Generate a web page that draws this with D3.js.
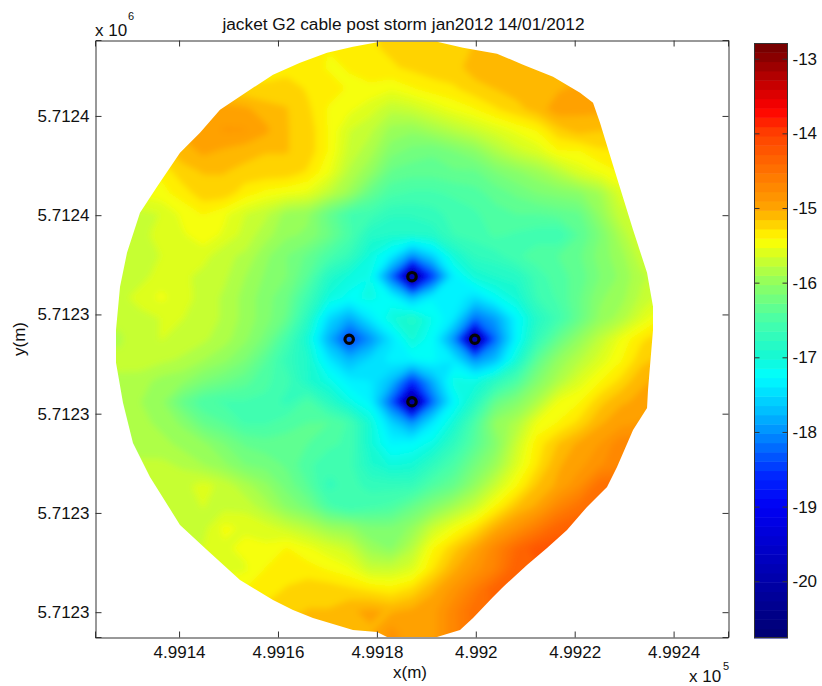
<!DOCTYPE html>
<html><head><meta charset="utf-8">
<script src="https://cdn.jsdelivr.net/npm/d3@7"></script>
<style>
html,body{margin:0;padding:0;background:#fff}
svg{display:block}
text{font-family:"Liberation Sans",Arial,sans-serif;fill:#111}
</style></head><body>
<svg id="c" width="822" height="686"></svg>
<script>
const chartTitle = "jacket G2 cable post storm jan2012 14/01/2012";
const xTicks = [499140,499160,499180,499200,499220,499240];
const xTickLabels = ["4.9914","4.9916","4.9918","4.992","4.9922","4.9924"];
const yTicks = [5712280,5712300,5712320,5712340,5712360,5712380];
const yTickLabels = ["5.7123","5.7123","5.7123","5.7123","5.7124","5.7124"];
const cbTicks = [-20,-19,-18,-17,-16,-15,-14,-13];
const colorValues = [-20.76,-20,-19,-18.6,-18,-17.7,-17.25,-17,-16.5,-16,-15.42,-15,-14,-13.68,-13,-12.79];
const colorNames = ["#000070","#0000a8","#0000f4","#0024ff","#0090ff","#00c0ff","#00ffff","#14f8d4","#48ffa8","#90ff60","#ffff00","#ffa400","#ff4000","#ff0000","#8c0000","#700000"];

const gridX = [499123.7,499127.9,499132.1,499136.4,499140.6,499144.8,499149.0,499153.3,499157.5,499161.7,499166.0,499170.2,499174.4,499178.6,499182.9,499187.1,499191.3,499195.5,499199.8,499204.0,499208.2,499212.4,499216.7,499220.9,499225.1,499229.3,499233.6,499237.8];
const gridY = [5712398.2,5712394.0,5712389.8,5712385.5,5712381.3,5712377.1,5712372.9,5712368.7,5712364.5,5712360.3,5712356.1,5712351.8,5712347.6,5712343.4,5712339.2,5712335.0,5712330.8,5712326.6,5712322.4,5712318.2,5712313.9,5712309.7,5712305.5,5712301.3,5712297.1,5712292.9,5712288.7,5712284.5,5712280.2,5712276.0,5712271.8];
const depth = [
[-15.4,-15.4,-15.4,-15.4,-15.4,-15.4,-15.4,-15.4,-15.4,-15.4,-15.4,-15.4,-15.4,-15.3,-15.25,-15.2,-15.2,-15.2,-15.15,-15.1,-15.1,-15.1,-15.1,-15.1,-15.1,-15.1,-15.1,-15.1],
[-15.4,-15.4,-15.4,-15.4,-15.4,-15.4,-15.4,-15.4,-15.4,-15.4,-15.4,-15.4,-15.4,-15.3,-15.25,-15.2,-15.2,-15.2,-15.15,-15.1,-15.1,-15.1,-15.1,-15.1,-15.1,-15.1,-15.1,-15.1],
[-15.35,-15.35,-15.35,-15.35,-15.35,-15.35,-15.35,-15.35,-15.35,-15.35,-15.35,-15.42,-15.4,-15.3,-15.3,-15.25,-15.2,-15.2,-15.1,-15.05,-15.1,-15.1,-15.1,-15.1,-15.1,-15.1,-15.1,-15.1],
[-15.25,-15.25,-15.25,-15.25,-15.25,-15.25,-15.25,-15.25,-15.25,-15.2,-15.3,-15.35,-15.42,-15.45,-15.5,-15.42,-15.35,-15.3,-15.2,-15.15,-15.1,-15.05,-15.05,-15,-15,-15,-15,-15],
[-14.95,-14.95,-14.95,-14.95,-14.95,-14.95,-14.95,-15,-15.1,-15.15,-15.25,-15.42,-15.5,-15.6,-15.75,-15.7,-15.6,-15.5,-15.42,-15.3,-15.2,-15.1,-14.95,-15,-15,-15,-15,-15],
[-15,-15,-15,-15,-15,-14.95,-14.9,-14.9,-15,-15.15,-15.2,-15.42,-15.65,-15.75,-15.95,-16,-15.9,-15.8,-15.7,-15.6,-15.5,-15.4,-15.2,-15.1,-15.15,-15.15,-15.15,-15.15],
[-15.2,-15.2,-15.2,-15.2,-15.1,-15,-15.05,-15.1,-15.15,-15.15,-15.2,-15.42,-15.7,-15.85,-16.1,-16.2,-16.25,-16.15,-16.05,-15.85,-15.7,-15.6,-15.42,-15.42,-15.3,-15.3,-15.3,-15.3],
[-15.4,-15.4,-15.4,-15.38,-15.2,-15.15,-15.15,-15.2,-15.2,-15.2,-15.3,-15.5,-15.8,-16,-16.3,-16.35,-16.35,-16.3,-16.3,-16.15,-16.05,-15.95,-15.8,-15.6,-15.5,-15.4,-15.4,-15.4],
[-15.5,-15.5,-15.5,-15.45,-15.35,-15.2,-15.2,-15.35,-15.45,-15.5,-15.55,-15.75,-15.95,-16.3,-16.5,-16.55,-16.55,-16.5,-16.45,-16.35,-16.25,-16.15,-16.1,-16.05,-15.9,-15.6,-15.6,-15.6],
[-15.7,-15.7,-15.7,-15.65,-15.5,-15.4,-15.5,-15.65,-15.75,-15.95,-16,-16.3,-16.55,-16.6,-16.75,-16.75,-16.7,-16.6,-16.55,-16.45,-16.4,-16.4,-16.35,-16.3,-16,-15.7,-15.6,-15.6],
[-15.75,-15.75,-15.7,-15.6,-15.55,-15.45,-15.55,-15.7,-15.85,-16,-16.05,-16.25,-16.5,-16.85,-16.9,-16.9,-16.85,-16.65,-16.6,-16.5,-16.55,-16.6,-16.65,-16.4,-16.15,-15.85,-15.6,-15.5],
[-15.75,-15.75,-15.72,-15.65,-15.62,-15.6,-15.75,-15.8,-16,-16.15,-16.3,-16.5,-16.7,-17.05,-17.35,-18,-17.55,-17,-16.75,-16.7,-16.55,-16.45,-16.4,-16.3,-16.1,-15.95,-15.7,-15.6],
[-15.7,-15.7,-15.7,-15.6,-15.62,-15.7,-15.75,-15.9,-16.05,-16.15,-16.4,-16.85,-17.05,-17.15,-18.2,-20.6,-18.5,-17.35,-17,-16.9,-16.85,-16.6,-16.45,-16.35,-16.15,-16,-15.8,-15.7],
[-15.7,-15.7,-15.6,-15.5,-15.6,-15.7,-15.8,-15.95,-16.1,-16.25,-16.6,-17.05,-17.2,-17.1,-17.25,-17.75,-17.3,-17.3,-17.5,-17.2,-17,-16.65,-16.5,-16.3,-16.05,-15.95,-15.75,-15.6],
[-15.75,-15.75,-15.7,-15.65,-15.65,-15.7,-15.8,-15.95,-16.1,-16.3,-16.8,-17.5,-17.85,-17.4,-17.05,-16.85,-17.15,-17.4,-18.2,-17.9,-17.3,-16.85,-16.6,-16.3,-16,-15.85,-15.6,-15.4],
[-15.8,-15.8,-15.7,-15.65,-15.7,-15.75,-15.85,-16,-16.2,-16.55,-17,-17.8,-18.5,-18,-17.45,-17,-17.25,-18,-20.6,-18.2,-17.3,-16.7,-16.3,-16,-15.75,-15.5,-15.3,-15.2],
[-15.75,-15.75,-15.7,-15.75,-15.8,-15.9,-16,-16.15,-16.4,-16.7,-16.9,-17.4,-17.75,-17.5,-17.35,-17.3,-17.25,-17.4,-18,-17.7,-17,-16.35,-16,-15.8,-15.6,-15.42,-15.2,-15.1],
[-15.8,-15.8,-15.85,-15.95,-16,-16.15,-16.25,-16.35,-16.5,-16.6,-16.9,-17.1,-17.35,-17.4,-17.7,-18.6,-17.8,-17.1,-17.1,-16.8,-16.5,-16.1,-15.85,-15.6,-15.42,-15.25,-15.05,-15],
[-15.85,-15.85,-15.9,-16,-16.3,-16.5,-16.55,-16.55,-16.55,-16.7,-16.5,-16.8,-17.1,-17.3,-18.3,-20.7,-18.2,-17.3,-16.85,-16.3,-16.1,-15.85,-15.5,-15.42,-15.2,-15.05,-15,-15],
[-15.85,-15.85,-15.85,-15.95,-16.05,-16.3,-16.4,-16.55,-16.55,-16.45,-16.4,-16.4,-16.55,-17,-17.55,-18,-17.4,-17,-16.5,-16,-15.85,-15.5,-15.4,-15.25,-15.05,-14.95,-14.9,-14.9],
[-15.85,-15.85,-15.85,-15.85,-15.95,-16,-16.15,-16.3,-16.35,-16.35,-16.4,-16.5,-16.55,-17,-17.3,-17.25,-17.1,-16.75,-16.4,-16.1,-15.7,-15.35,-15.15,-15,-14.9,-14.7,-14.7,-14.7],
[-15.75,-15.75,-15.75,-15.75,-15.8,-15.9,-16,-16.15,-16.2,-16.3,-16.5,-16.6,-16.6,-16.9,-17.05,-17,-16.75,-16.5,-16.2,-15.95,-15.6,-15.3,-15.05,-14.95,-14.8,-14.7,-14.7,-14.7],
[-15.7,-15.7,-15.7,-15.7,-15.7,-15.6,-15.7,-15.85,-16,-16.2,-16.4,-16.7,-16.6,-16.7,-16.7,-16.7,-16.45,-16.3,-16,-15.7,-15.42,-15.15,-15,-14.8,-14.45,-14.45,-14.45,-14.45],
[-15.7,-15.7,-15.7,-15.7,-15.7,-15.65,-15.7,-15.7,-15.85,-16.05,-16.2,-16.5,-16.65,-16.55,-16.5,-16.3,-16.1,-15.9,-15.7,-15.4,-15.15,-15,-14.7,-14.5,-14.4,-14.4,-14.4,-14.4],
[-15.7,-15.7,-15.7,-15.7,-15.7,-15.7,-15.5,-15.55,-15.6,-15.7,-15.8,-15.95,-16,-16.15,-16.15,-16,-15.7,-15.5,-15.3,-15.05,-14.85,-14.6,-14.35,-14.3,-14.3,-14.3,-14.3,-14.3],
[-15.65,-15.65,-15.65,-15.65,-15.65,-15.65,-15.55,-15.5,-15.5,-15.4,-15.5,-15.6,-15.7,-15.95,-16.05,-15.8,-15.42,-15.2,-15,-14.7,-14.4,-14.2,-14.2,-14.2,-14.2,-14.2,-14.2,-14.2],
[-15.6,-15.6,-15.6,-15.6,-15.6,-15.6,-15.6,-15.55,-15.4,-15.4,-15.35,-15.42,-15.5,-15.7,-15.7,-15.6,-15.3,-15.05,-14.85,-14.65,-14.3,-14.3,-14.3,-14.3,-14.3,-14.3,-14.3,-14.3],
[-15.4,-15.4,-15.4,-15.4,-15.4,-15.4,-15.4,-15.4,-15.4,-15.25,-15.2,-15.2,-15.25,-15.3,-15.35,-15.25,-15.05,-14.85,-14.6,-14.3,-14.3,-14.3,-14.3,-14.3,-14.3,-14.3,-14.3,-14.3],
[-15.2,-15.2,-15.2,-15.2,-15.2,-15.2,-15.2,-15.2,-15.2,-15.2,-15.15,-15.15,-15.05,-15,-15.05,-15,-14.95,-14.7,-14.45,-14.4,-14.4,-14.4,-14.4,-14.4,-14.4,-14.4,-14.4,-14.4],
[-15.1,-15.1,-15.1,-15.1,-15.1,-15.1,-15.1,-15.1,-15.1,-15.1,-15.1,-15.1,-15.05,-15.05,-14.85,-15,-14.95,-14.7,-14.5,-14.5,-14.5,-14.5,-14.5,-14.5,-14.5,-14.5,-14.5,-14.5],
[-15.1,-15.1,-15.1,-15.1,-15.1,-15.1,-15.1,-15.1,-15.1,-15.1,-15.1,-15.1,-15.05,-15.05,-14.85,-15,-14.95,-14.7,-14.5,-14.5,-14.5,-14.5,-14.5,-14.5,-14.5,-14.5,-14.5,-14.5]
];
const outlineX = [499127.25,499128.06,499129.47,499132.10,499135.54,499140.19,499144.23,499148.28,499153.74,499159.0,499164.46,499169.92,499175.17,499180.63,499192.16,499197.42,499204.29,499209.55,499215.62,499221.08,499223.71,499225.12,499227.75,499231.8,499234.63,499235.84,499235.84,499234.83,499234.63,499231.8,499228.56,499226.54,499222.49,499218.45,499214.41,499210.36,499205.51,499203.49,499199.44,499196.81,499192.16,499182.05,499180.03,499175.17,499167.08,499163.04,499159.0,499152.32,499145.65,499140.19,499134.12,499130.68,499128.66,499127.25];
const outlineY = [5712336.9,5712345.56,5712352.42,5712360.48,5712365.73,5712372.58,5712376.61,5712381.25,5712384.88,5712388.31,5712390.73,5712392.74,5712393.95,5712394.96,5712394.96,5712393.75,5712392.54,5712390.32,5712387.90,5712384.68,5712382.66,5712378.63,5712370.08,5712357.06,5712348.39,5712341.53,5712336.9,5712324.8,5712321.17,5712316.73,5712309.27,5712305.24,5712301.21,5712296.57,5712292.94,5712289.52,5712285.08,5712283.06,5712278.83,5712276.41,5712275,5712275,5712276.0,5712276.41,5712278.83,5712280.44,5712282.46,5712286.49,5712292.54,5712297.58,5712307.26,5712314.11,5712322.18,5712330.24];
const siteX = [499187.1,499174.4,499199.8,499187.1];
const siteY = [5712347.6,5712335.0,5712335.0,5712322.4];

const svg = d3.select("#c");
const L=95,R=728,T=40,B=637, CL=754,CR=788,CT=43,CB=638;
const x = d3.scaleLinear().domain([499123,499251]).range([L,R]);
const y = d3.scaleLinear().domain([5712275,5712395.3]).range([B,T]);
const color = d3.scaleLinear().domain(colorValues).range(colorNames).interpolate(d3.interpolateRgb).clamp(true);
const cMin=-20.76,cMax=-12.79,nLev=64;
const levels=d3.range(nLev).map(i=>cMin+i*(cMax-cMin)/nLev);
const bandColor=i=>color(cMin+(i+.5)*(cMax-cMin)/nLev);

const defs=svg.append("defs");
defs.append("clipPath").attr("id","disc").append("path")
 .attr("d",d3.line()(outlineX.map((v,i)=>[x(v),y(outlineY[i])]))+"Z");
defs.append("clipPath").attr("id","box").append("rect").attr("x",L).attr("y",T).attr("width",R-L).attr("height",B-T);
defs.append("filter").attr("id","soft").attr("filterUnits","userSpaceOnUse").attr("x",0).attr("y",0).attr("width",822).attr("height",686)
 .append("feGaussianBlur").attr("stdDeviation",3);

const nx=gridX.length, ny=gridY.length;
const values=depth.flat();
const cx=d3.scaleLinear().domain([.5,nx-.5]).range([x(gridX[0]),x(gridX[nx-1])]);
const cy=d3.scaleLinear().domain([.5,ny-.5]).range([y(gridY[0]),y(gridY[ny-1])]);
const contours=d3.contours().size([nx,ny]).smooth(true).thresholds(levels)(values);
const path=d3.geoPath(d3.geoTransform({point(a,b){this.stream.point(cx(a),cy(b));}}));
const g=svg.append("g").attr("clip-path","url(#box)").append("g").attr("clip-path","url(#disc)").append("g").attr("filter","url(#soft)");
g.selectAll("path").data(contours).join("path")
 .attr("d",path).attr("fill",(d,i)=>bandColor(i)).attr("stroke",(d,i)=>bandColor(i)).attr("stroke-width",.4);

svg.append("g").selectAll("circle").data(siteX).join("circle")
 .attr("cx",d=>x(d)).attr("cy",(d,i)=>y(siteY[i])).attr("r",4.2)
 .attr("fill","none").attr("stroke","#050505").attr("stroke-width",3.2);

const ink="#333";
function styleAxis(s,fs){s.select(".domain").attr("stroke",ink).attr("stroke-width",1);
 s.selectAll("line").attr("stroke",ink);s.selectAll("text").attr("font-size",fs).attr("fill","#111");}
const lab=(ticks,labels)=>v=>labels[ticks.indexOf(v)];
svg.append("g").attr("transform",`translate(0,${B+.5})`)
 .call(d3.axisBottom(x).tickValues(xTicks).tickFormat(lab(xTicks,xTickLabels)).tickSize(-6).tickPadding(8.5))
 .call(s=>styleAxis(s,17));
svg.append("g").attr("transform",`translate(0,${T+.5})`)
 .call(d3.axisTop(x).tickValues(xTicks).tickFormat("").tickSize(-6)).call(s=>styleAxis(s,17));
svg.append("g").attr("transform",`translate(${L+.5},0)`)
 .call(d3.axisLeft(y).tickValues(yTicks).tickFormat(lab(yTicks,yTickLabels)).tickSize(-6).tickPadding(6))
 .call(s=>styleAxis(s,17));
svg.append("g").attr("transform",`translate(${R+.5},0)`)
 .call(d3.axisRight(y).tickValues(yTicks).tickFormat("").tickSize(-6)).call(s=>styleAxis(s,17));

const txt=(t,px,py,fs,anchor="start")=>svg.append("text").attr("x",px).attr("y",py).attr("font-size",fs).attr("text-anchor",anchor).text(t);
txt(chartTitle,403.5,30,17.3,"middle");
txt("x(m)",410,678,17,"middle");
svg.append("text").attr("transform","translate(25,339) rotate(-90)").attr("font-size",17).attr("text-anchor","middle").text("y(m)");
txt("x 10",95,36,17);txt("6",128,20,11);
txt("x 10",689,682,17);txt("5",723,670,11);

// colour bar
const cb=d3.scaleLinear().domain([cMin,cMax]).range([CB,CT]);
svg.append("g").selectAll("rect").data(levels).join("rect")
 .attr("x",CL).attr("width",CR-CL)
 .attr("y",(d,i)=>cb(cMin+(i+1)*(cMax-cMin)/nLev))
 .attr("height",(CB-CT)/nLev+.5).attr("fill",(d,i)=>bandColor(i));
svg.append("rect").attr("x",CL+.5).attr("y",CT+.5).attr("width",CR-CL-1).attr("height",CB-CT-1).attr("fill","none").attr("stroke",ink);
const cbAxis=svg.append("g").attr("transform",`translate(${CR-.5},0)`)
 .call(d3.axisRight(cb).tickValues(cbTicks).tickFormat(d=>String(d)).tickSize(-5).tickPadding(5)).call(s=>styleAxis(s,17));
cbAxis.select(".domain").remove();
svg.append("g").attr("transform",`translate(${CL+.5},0)`)
 .call(d3.axisLeft(cb).tickValues(cbTicks).tickFormat("").tickSize(-5)).call(s=>{styleAxis(s,17);s.select(".domain").remove();});
</script></body></html>
